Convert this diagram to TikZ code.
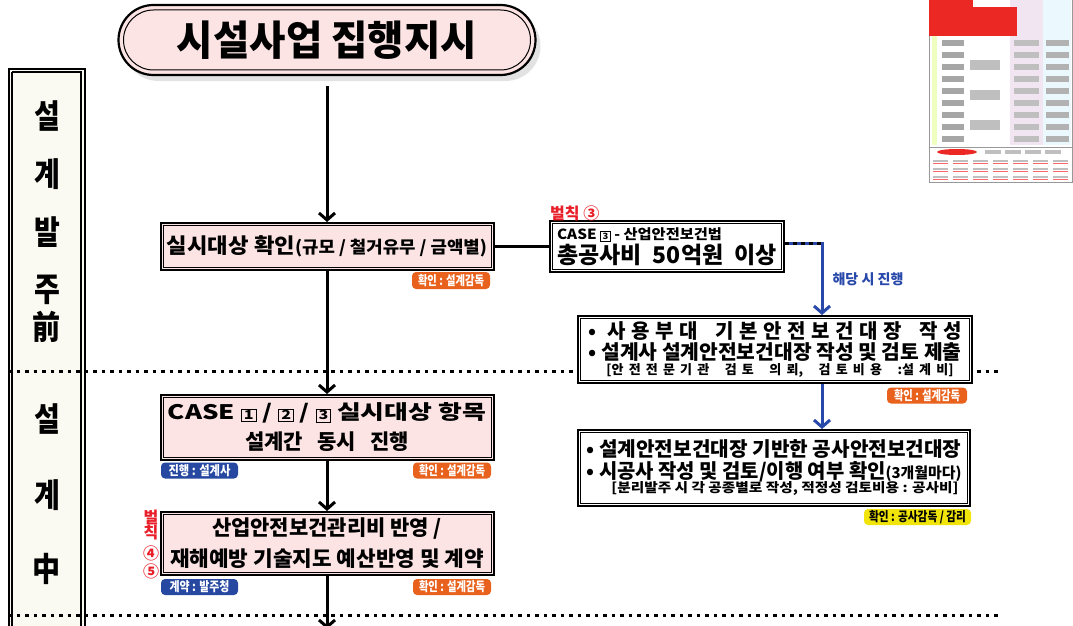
\documentclass[tikz,border=0pt]{standalone}
\usepackage{graphicx}
\usepackage{fontspec}
\setmainfont{Noto Sans CJK KR}[BoldFont={Noto Sans CJK KR Black}]
\usetikzlibrary{arrows.meta,shapes.misc,shadows}
\definecolor{pinkf}{RGB}{252,228,228}
\definecolor{tagor}{RGB}{232,98,30}
\definecolor{tagbl}{RGB}{38,72,160}
\definecolor{lnbl}{RGB}{40,72,170}
\definecolor{tagye}{RGB}{240,228,10}
\definecolor{redt}{RGB}{232,30,40}
\definecolor{colf}{RGB}{250,250,242}
\definecolor{thred}{RGB}{236,40,36}
\newcommand{\fw}[2]{\resizebox{#1}{\height}{#2}}
\newcommand{\sq}[1]{{\setlength{\fboxsep}{1.5pt}\setlength{\fboxrule}{0.7pt}\fbox{\scalebox{0.62}{#1}}}}
\newcommand{\vlines}[2]{\vbox{\baselineskip=#1\lineskiplimit=-\maxdimen #2}}
\newcommand{\colch}[1]{\scalebox{0.85}[1]{#1}}
\begin{document}
\begin{tikzpicture}[x=1pt,y=-1pt,
  arr/.style={line width=3pt,-{Straight Barb[length=7pt,width=16pt]}},
  barr/.style={line width=3pt,draw=lnbl,-{Straight Barb[length=7pt,width=16pt]}},
  pbox/.style={draw,line width=2pt,fill=pinkf,inner sep=0pt,minimum width=333pt},
  wbox/.style={draw,line width=2pt,fill=white,inner sep=0pt},
  tag/.style={rounded corners=4pt,inner sep=0pt,minimum height=16pt,font=\bfseries\fontsize{13}{13}\selectfont},
  dotl/.style={line width=3pt,dash pattern=on 3.5pt off 5pt},
  colt/.style={font=\bfseries\fontsize{33}{33}\selectfont,inner sep=0pt},
  redl/.style={font=\bfseries\fontsize{16}{16}\selectfont,text=redt,inner sep=0pt}
]
\useasboundingbox (0,0) rectangle (1073,626);
\fill[white] (0,0) rectangle (1073,626);

% thumbnail of the whole sheet
\draw[black!40,line width=0.6pt,fill=white] (929,-1) rectangle (1072,182);
\fill[green!25!yellow!25] (932,36) rectangle (937,145);
\fill[violet!10] (1010,0) rectangle (1043,145);
\fill[cyan!8] (1043,0) rectangle (1071,145);
\fill[thred] (929,0) rectangle (973,36);
\fill[thred] (973,7) rectangle (1017,36);
\foreach \yy in {40,52,...,136} {
  \fill[black!35] (942,\yy) rectangle (964,\yy+6);
  \fill[black!25] (1014,\yy) rectangle (1039,\yy+6);
  \fill[black!30] (1046,\yy) rectangle (1069,\yy+6);
}
\foreach \yy in {60,90,120} \fill[black!25] (970,\yy) rectangle (1000,\yy+10);
\draw[black!40,line width=0.5pt] (929,147) -- (1072,147);
\fill[thred] (957,152) ellipse [x radius=20pt,y radius=3pt];
\foreach \xx in {985,1005,1025,1045} \fill[black!25] (\xx,150) rectangle (\xx+16,154);
\foreach \yy in {160,168,176} \foreach \xx in {933,953,973,993,1013,1033,1053} {
  \fill[black!25] (\xx,\yy) rectangle (\xx+15,\yy+2);
  \fill[red!60] (\xx,\yy+3) rectangle (\xx+15,\yy+4);
}

% left phase column
\node[draw,line width=2pt,fill=colf,minimum width=76pt,minimum height=572pt,inner sep=0pt] (col) at (47,355) {};
\draw[line width=1.2pt] ([shift={(4pt,-4pt)}]col.north west) -- ([shift={(4pt,0pt)}]col.south west);
\draw[line width=1.2pt] ([shift={(4pt,-4pt)}]col.north west) -- ([shift={(-5pt,-4pt)}]col.north east) -- ([shift={(-5pt,0pt)}]col.south east);
\node[colt] (c1) at (47,116) {\colch{설}};
\node[colt] (c2) at (47,174) {\colch{계}};
\node[colt] (c3a) at (47,232) {\colch{발}};
\node[colt] (c4) at (47,290) {\colch{주}};
\node[colt] (c5) at (47,327) {\colch{前}};
\node[colt] (c6) at (47,419) {\colch{설}};
\node[colt] (c7) at (47,495) {\colch{계}};
\node[colt] (c8) at (47,569) {\colch{中}};

% section separators
\draw[dotl] (8,371) -- (1000,371);
\draw[dotl] (8,615) -- (1000,615);

% title
\node[rounded rectangle,draw,line width=2.2pt,fill=pinkf,minimum width=417pt,minimum height=70pt,inner sep=0pt,
  drop shadow={shadow xshift=5pt,shadow yshift=-6pt,fill=black!22}] (title) at (327,40)
  {\fw{300pt}{\fontsize{41}{41}\selectfont\bfseries 시설사업 집행지시}};
\node[rounded rectangle,draw,line width=1pt,minimum width=407pt,minimum height=60pt,inner sep=0pt] (titlein) at (title.center) {};

% main flow
\node[pbox,minimum height=47pt] (n1) at (327,246.5)
  {\bfseries\fw{128pt}{\fontsize{21}{21}\selectfont 실시대상 확인}\fw{192pt}{\fontsize{17}{17}\selectfont (규모 / 철거유무 / 금액별)}};
\node[pbox,minimum height=65pt] (n2) at (327,427.5)
  {\vlines{30pt}{\hbox to 320pt{\hss\fontsize{20}{20}\selectfont\bfseries\fw{318pt}{CASE \sq{1} / \sq{2} / \sq{3} 실시대상 항목}\hss}%
   \hbox to 320pt{\hss\fontsize{21}{21}\selectfont\bfseries\makebox[164pt][s]{설계간\hfill 동시\hfill 진행}\hss}}};
\node[pbox,minimum height=63pt] (n3) at (327,543.5)
  {\vlines{31pt}{\hbox to 320pt{\hss\fontsize{21}{21}\selectfont\bfseries\fw{230pt}{산업안전보건관리비 반영 /}\hss}%
   \hbox to 320pt{\hss\fontsize{21}{21}\selectfont\bfseries\fw{314pt}{재해예방 기술지도 예산반영 및 계약}\hss}}};

% right branch
\node[wbox,minimum width=234pt,minimum height=51pt] (c3) at (667,246.5)
  {\vlines{24pt}{\hbox{\fontsize{14}{14}\selectfont\bfseries\fw{165pt}{CASE \sq{3} - 산업안전보건법}}%
   \hbox{\fontsize{23}{23}\selectfont\bfseries\makebox[220pt][s]{총공사비\hfill 50억원\hfill 이상}}}};
\node[wbox,minimum width=394pt,minimum height=67pt] (b2) at (775,349.5)
  {\vlines{21pt}{%
   \hbox{\fontsize{20}{20}\selectfont\bfseries\makebox[373pt][s]{•\hfill\hfill 사\hfill 용\hfill 부\hfill 대\hfill\hfill\hfill 기\hfill 본\hfill 안\hfill 전\hfill 보\hfill 건\hfill 대\hfill 장\hfill\hfill\hfill 작\hfill 성}}%
   \hbox{\fontsize{20}{20}\selectfont\bfseries\fw{373pt}{• 설계사 설계안전보건대장 작성 및 검토 제출}}%
   \vskip-6pt
   \hbox{\kern18pt\fontsize{13}{13}\selectfont\bfseries\makebox[347pt][s]{[안\hfill 전\hfill 전\hfill 문\hfill 기\hfill 관\hfill\hfill\hfill 검\hfill 토\hfill\hfill\hfill 의\hfill 뢰,\hfill\hfill\hfill 검\hfill 토\hfill 비\hfill 용\hfill\hfill\hfill :설\hfill 계\hfill 비]}}}};
\node[wbox,minimum width=392pt,minimum height=76pt] (b3) at (774,468)
  {\vlines{22pt}{%
   \hbox{\fontsize{20}{20}\selectfont\bfseries\fw{375pt}{• 설계안전보건대장 기반한 공사안전보건대장}}%
   \hbox{\fontsize{20}{20}\selectfont\bfseries\fw{375pt}{• 시공사 작성 및 검토/이행 여부 확인{\fontsize{15}{15}\selectfont(3개월마다)}}}%
   \vskip-8pt
   \hbox{\kern25pt\fontsize{13}{13}\selectfont\bfseries\fw{347pt}{[분리발주 시 각 공종별로 작성, 적정성 검토비용 : 공사비]}}}};

% inner lines of the double frames
\foreach \n in {n1,n2,n3,c3,b2,b3}
  \draw[line width=1pt] ([shift={(3.5pt,-3.5pt)}]\n.north west) rectangle ([shift={(-3.5pt,3.5pt)}]\n.south east);

% tags
\node[tag,fill=tagor,text=white,minimum width=78pt,minimum height=17pt] (t1) at (451,280.5) {\fw{66pt}{확인 : 설계감독}};
\node[tag,fill=tagbl,text=white,minimum width=77pt] (t2a) at (199.5,470.5) {\fw{62pt}{진행 : 설계사}};
\node[tag,fill=tagor,text=white,minimum width=78pt] (t2b) at (452,470.5) {\fw{66pt}{확인 : 설계감독}};
\node[tag,fill=tagbl,text=white,minimum width=77pt] (t3a) at (199.5,587) {\fw{60pt}{계약 : 발주청}};
\node[tag,fill=tagor,text=white,minimum width=78pt] (t3b) at (452,587) {\fw{66pt}{확인 : 설계감독}};
\node[tag,fill=tagor,text=white,minimum width=80pt] (t4) at (927,395.5) {\fw{66pt}{확인 : 설계감독}};
\node[tag,fill=tagye,text=black,minimum width=107pt] (t5) at (917.5,517) {\fw{97pt}{확인 : 공사감독 / 감리}};

% red penalty labels
\node[redl,anchor=west] (r3) at (550,213) {벌칙 ③};
\node[redl] (r45) at (151,545) {\vbox{\baselineskip=15pt\lineskiplimit=-\maxdimen
  \hbox to 15pt{\hss 벌\hss}\hbox to 15pt{\hss 칙\hss}\vskip6pt\hbox to 15pt{\hss ④\hss}\vskip3pt\hbox to 15pt{\hss ⑤\hss}}};

% blue label
\node[font=\bfseries\fontsize{14}{14}\selectfont,text=lnbl,inner sep=0pt] (lb) at (868,279) {\fw{71pt}{해당 시 진행}};

% connectors
\coordinate (bx) at (822,0);
\coordinate (bot) at (327,629);
\draw[arr] ([yshift=-10pt]title.south) -- (n1.north);
\draw[arr] (n1.south) -- (n2.north);
\draw[arr] (n2.south) -- (n3.north);
\draw[arr] (n3.south) -- (bot);
\draw[line width=3pt] (n1.east) -- (c3.west);
\draw[barr] ([yshift=3pt]c3.east) -| (bx |- b2.north);
\draw[line width=3pt,dash pattern=on 4pt off 4pt] ([yshift=3pt]c3.east) -- ([yshift=3pt]c3.east -| bx);
\draw[barr] (bx |- b2.south) -- (bx |- b3.north);
\end{tikzpicture}
\end{document}
